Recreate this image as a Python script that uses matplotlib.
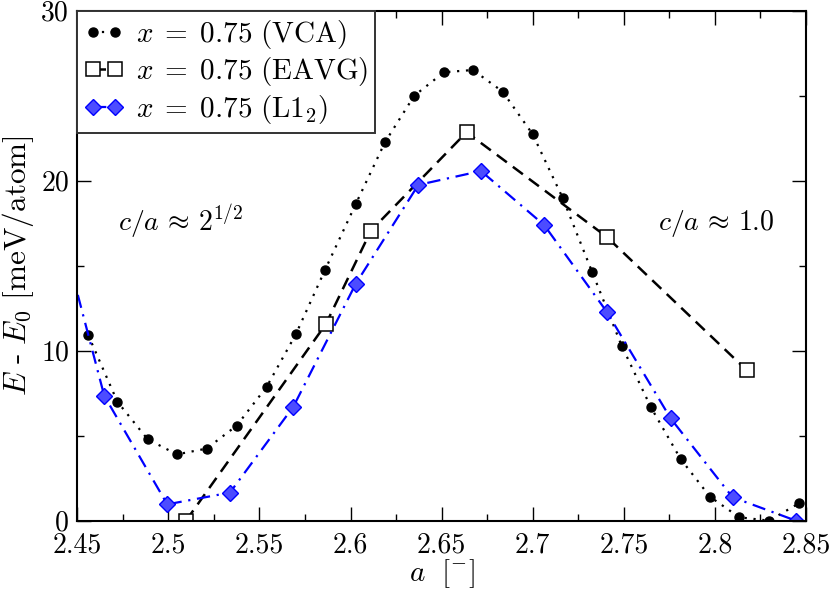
import matplotlib
matplotlib.use("Agg")
import matplotlib.pyplot as plt
from matplotlib.ticker import MultipleLocator, FixedLocator

plt.rcParams['font.family'] = 'serif'
plt.rcParams['font.serif'] = ['cmr10', 'DejaVu Serif']
plt.rcParams['mathtext.fontset'] = 'cm'
plt.rcParams['axes.formatter.use_mathtext'] = True

# VCA data
vca_a = [2.456, 2.472, 2.4886, 2.5047, 2.521, 2.5375, 2.554, 2.570, 2.586, 2.6028,
         2.6189, 2.635, 2.6513, 2.6672, 2.6835, 2.700, 2.7164, 2.7327, 2.7488, 2.7649,
         2.7812, 2.7973, 2.8134, 2.8298, 2.8463]
vca_e = [10.92, 7.0, 4.79, 3.9, 4.24, 5.59, 7.88, 10.97, 14.75, 18.61,
         22.26, 25.0, 26.38, 26.51, 25.24, 22.73, 19.0, 14.61, 10.3, 6.67,
         3.63, 1.41, 0.2, 0.0, 1.03]

# EAVG data
eavg_a = [2.5097, 2.5865, 2.6112, 2.6637, 2.7406, 2.8174]
eavg_e = [0.0, 11.57, 17.06, 22.85, 16.7, 8.86]

# L1_2 data
l12_a = [2.4302, 2.4648, 2.4994, 2.5338, 2.5686, 2.6028, 2.6372, 2.6716, 2.7063,
         2.7406, 2.7757, 2.8097, 2.8445]
l12_e = [21.5, 7.35, 0.96, 1.65, 6.7, 13.92, 19.75, 20.57, 17.39,
         12.3, 6.02, 1.38, 0.0]

xticks = [2.45, 2.5, 2.55, 2.6, 2.65, 2.7, 2.75, 2.8, 2.85]
xticklabels = ["2.45", "2.5", "2.55", "2.6", "2.65", "2.7", "2.75", "2.8", "2.85"]
yticks = [0, 10, 20, 30]

fig = plt.figure(figsize=(8.3, 5.9), dpi=100)
ax = fig.add_axes([0.0931, 0.1175, 0.9710 - 0.0931, 0.9819 - 0.1175])

ax.plot(vca_a, vca_e, linestyle=(0, (1, 3)), color='black', lw=1.6,
        marker='o', ms=6.5, mfc='black', mec='black',
        label=r'$x\;=\;0.75\ \mathrm{(VCA)}$')
ax.plot(eavg_a, eavg_e, linestyle=(0, (5, 3)), color='black', lw=1.8,
        marker='s', ms=10, mfc='white', mec='black', mew=1.1,
        label=r'$x\;=\;0.75\ \mathrm{(EAVG)}$')
ax.plot(l12_a, l12_e, linestyle=(0, (6, 3, 1, 3)), color='#0000ff', lw=1.6,
        marker='D', ms=8.5, mfc='#4c4cff', mec='#0000ff', mew=1.0,
        label=r'$x\;=\;0.75\ \mathrm{(L1_2)}$')

ax.set_xlim(2.45, 2.85)
ax.set_ylim(0, 30)
ax.xaxis.set_major_locator(FixedLocator(xticks))
ax.set_xticklabels(xticklabels)
ax.xaxis.set_minor_locator(MultipleLocator(0.025))
ax.yaxis.set_major_locator(FixedLocator(yticks))
ax.set_yticklabels([str(t) for t in yticks])
ax.yaxis.set_minor_locator(MultipleLocator(5))

ax.tick_params(which='both', direction='in', top=True, right=True, labelsize=20, width=1.0)
ax.tick_params(which='major', length=10)
ax.tick_params(axis='x', which='major', pad=8)
ax.tick_params(axis='y', which='major', pad=6)
ax.tick_params(which='minor', length=5)
for s in ax.spines.values():
    s.set_linewidth(1.5)

ax.set_xlabel(r'$a\ \ [^{-}]$', fontsize=21, labelpad=-1)
ax.set_ylabel(r'$E\ \mathrm{\text{-}}\ E_0\ \mathrm{[meV/atom]}$', fontsize=22.5, labelpad=4)

ax.text(2.4725, 17.6, r'$c/a\,\approx\,2^{1/2}$', fontsize=20, va='center', ha='left')
ax.text(2.8006, 17.5, r'$c/a\,\approx\,1.0$', fontsize=20, va='center', ha='center')

leg = ax.legend(loc='upper left', borderaxespad=0, fontsize=21, fancybox=False,
                frameon=True, handlelength=1.35, handletextpad=0.4, borderpad=0.25,
                labelspacing=0.15, numpoints=2)
leg.get_frame().set_edgecolor('#333333')
leg.get_frame().set_linewidth(1.4)
leg.get_frame().set_alpha(1)

fig.savefig('out.png', dpi=100)
